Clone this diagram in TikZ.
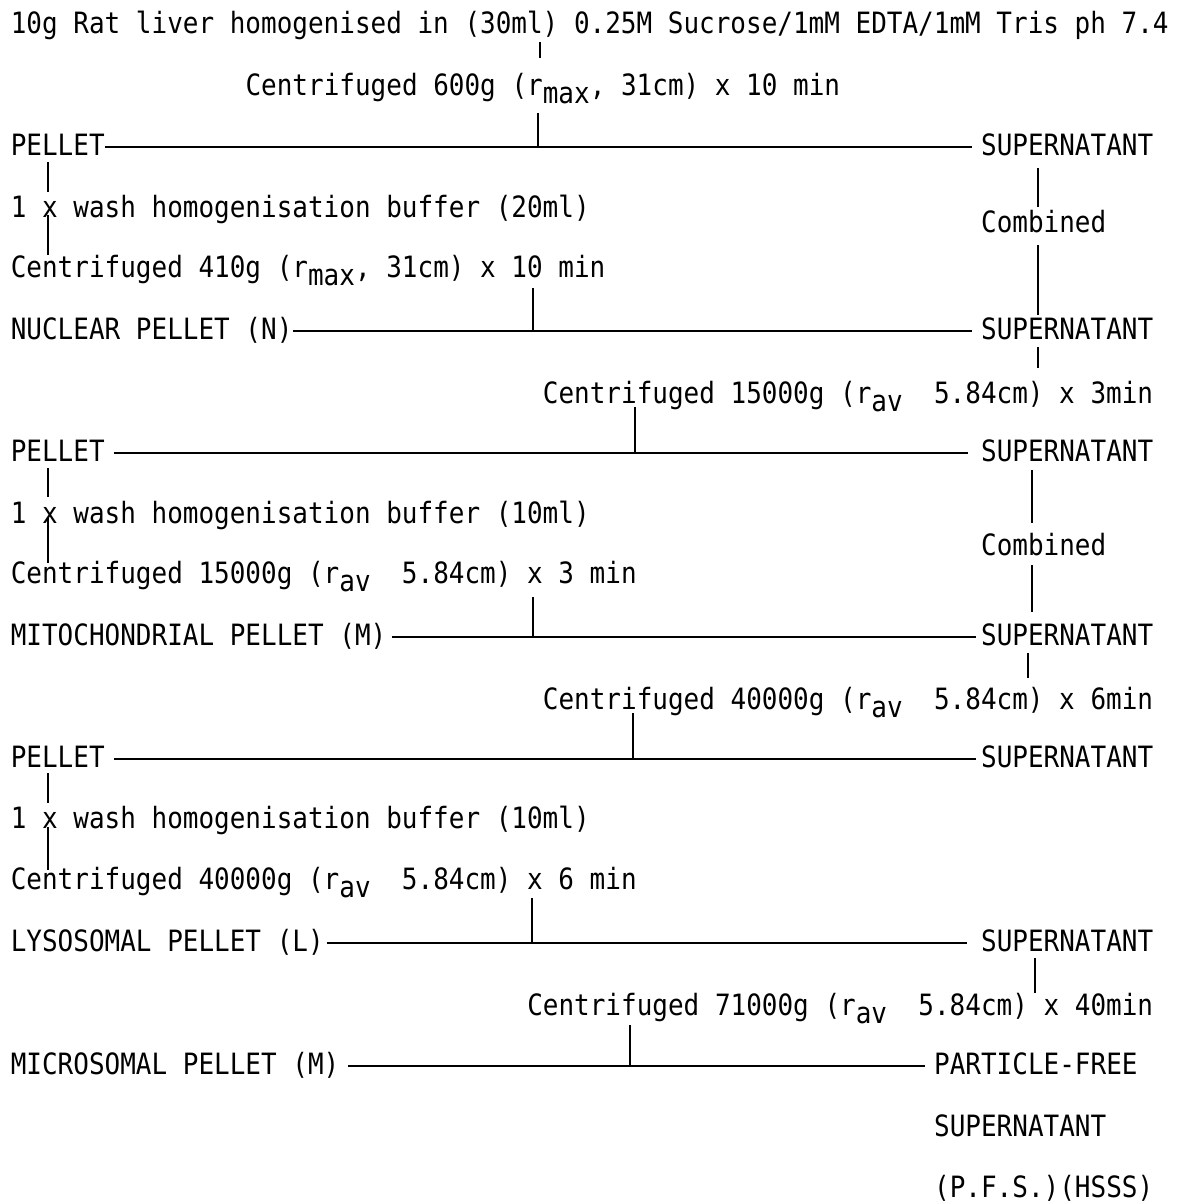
\documentclass[tikz,border=0pt]{standalone}
\usepackage{fontspec}
\usepackage{tikz}
\usetikzlibrary{calc}
\newfontfamily\typer{DejaVu Sans Mono}[FakeStretch=0.886]
\newcommand{\typesize}{\fontsize{22pt}{26pt}\selectfont}
\newcommand{\lowtxt}[1]{\raisebox{-6.5pt}{#1}}
\tikzset{
	txt/.style={anchor=base west, inner sep=0pt, font=\typer\typesize},
	split/.style={shorten >=6pt}
}

\begin{document}
\typer\typesize
\begin{tikzpicture}[x=0.75pt, y=-0.75pt, line width=1.2pt]
	\useasboundingbox (0, 0) rectangle (1185, 1204);
	\coordinate (lc) at (48, 0);
	\coordinate (rc1) at (1038, 0);
	\coordinate (rc2) at (1032, 0);
	\coordinate (rc3) at (1028, 0);
	\coordinate (rc4) at (1035, 0);
	\coordinate (k0) at (540, 0);
	\coordinate (k1) at (538, 0);
	\coordinate (k2) at (533, 0);
	\coordinate (k3) at (635, 0);
	\coordinate (k4) at (533, 0);
	\coordinate (k5) at (633, 0);
	\coordinate (k6) at (532, 0);
	\coordinate (k7) at (630, 0);
	\node[txt] (hom) at (10, 33) {10g Rat liver homogenised in (30ml) 0.25M Sucrose/1mM EDTA/1mM Tris ph 7.4};
	\node[txt] (cen1) at (244.75, 95) {Centrifuged 600g (r\lowtxt{max}, 31cm) x 10 min};
	\node[txt] (pel1) at (10, 155) {PELLET};
	\node[txt] (sup1) at (980.3, 155) {SUPERNATANT};
	\node[txt] (wash1) at (10, 217) {1 x wash homogenisation buffer (20ml)};
	\node[txt] (comb1) at (980.3, 232) {Combined};
	\node[txt] (cen2) at (10, 277) {Centrifuged 410g (r\lowtxt{max}, 31cm) x 10 min};
	\node[txt] (nuc) at (10, 339) {NUCLEAR PELLET (N)};
	\node[txt] (sup2) at (980.3, 339) {SUPERNATANT};
	\node[txt] (cen3) at (542.1, 403) {Centrifuged 15000g (r\lowtxt{av}\ \ 5.84cm) x 3min};
	\node[txt] (pel2) at (10, 461) {PELLET};
	\node[txt] (sup3) at (980.3, 461) {SUPERNATANT};
	\node[txt] (wash2) at (10, 523) {1 x wash homogenisation buffer (10ml)};
	\node[txt] (comb2) at (980.3, 555) {Combined};
	\node[txt] (cen4) at (10, 583) {Centrifuged 15000g (r\lowtxt{av}\ \ 5.84cm) x 3 min};
	\node[txt] (mito) at (10, 645) {MITOCHONDRIAL PELLET (M)};
	\node[txt] (sup4) at (980.3, 645) {SUPERNATANT};
	\node[txt] (cen5) at (542.1, 709) {Centrifuged 40000g (r\lowtxt{av}\ \ 5.84cm) x 6min};
	\node[txt] (pel3) at (10, 767) {PELLET};
	\node[txt] (sup5) at (980.3, 767) {SUPERNATANT};
	\node[txt] (wash3) at (10, 828) {1 x wash homogenisation buffer (10ml)};
	\node[txt] (cen6) at (10, 889) {Centrifuged 40000g (r\lowtxt{av}\ \ 5.84cm) x 6 min};
	\node[txt] (lyso) at (10, 951) {LYSOSOMAL PELLET (L)};
	\node[txt] (sup6) at (980.3, 951) {SUPERNATANT};
	\node[txt] (cen7) at (526.45, 1015) {Centrifuged 71000g (r\lowtxt{av}\ \ 5.84cm) x 40min};
	\node[txt] (micro) at (10, 1074) {MICROSOMAL PELLET (M)};
	\node[txt] (pfs1) at (933.35, 1074) {PARTICLE-FREE};
	\node[txt] (pfs2) at (933.35, 1136) {SUPERNATANT};
	\node[txt] (pfs3) at (933.35, 1197) {(P.F.S.)(HSSS)};
	\draw[split] (pel1.mid east) -- (sup1.mid west);
	\draw[split] (nuc.mid east) -- (sup2.mid west);
	\draw[split, shorten <=6.75pt, shorten >=9pt] (pel2.mid east) -- (sup3.mid west);
	\draw[split, shorten <=3.3pt, shorten >=3pt] (mito.mid east) -- (sup4.mid west);
	\draw[split, shorten <=6.75pt, shorten >=3pt] (pel3.mid east) -- (sup5.mid west);
	\draw[split, shorten <=1.5pt, shorten >=10pt] (lyso.mid east) -- (sup6.mid west);
	\draw[split, shorten <=6pt] (micro.mid east) -- (pfs1.mid west);
	\draw ($(hom.base -| k0)+(0, 9)$) -- ($(cen1.base -| k0)+(0, -37)$);
	\draw ($(cen1.base -| k1)+(0, 18)$) -- (k1 |- pel1.mid);
	\draw ($(cen2.base -| k2)+(0, 11)$) -- (k2 |- nuc.mid);
	\draw ($(cen3.base -| k3)+(0, 4)$) -- (k3 |- pel2.mid);
	\draw ($(cen4.base -| k4)+(0, 14)$) -- (k4 |- mito.mid);
	\draw ($(cen5.base -| k5)+(0, 4)$) -- (k5 |- pel3.mid);
	\draw ($(cen6.base -| k6)+(0, 9)$) -- (k6 |- lyso.mid);
	\draw ($(cen7.base -| k7)+(0, 10)$) -- (k7 |- micro.mid);
	\draw ($(pel1.base -| lc)+(0, 7)$) -- ($(wash1.base -| lc)+(0, -25)$);
	\draw ($(wash1.base -| lc)+(0, -2)$) -- ($(cen2.base -| lc)+(0, -22)$);
	\draw ($(pel2.base -| lc)+(0, 7)$) -- ($(wash2.base -| lc)+(0, -26)$);
	\draw ($(wash2.base -| lc)+(0, -5)$) -- ($(cen4.base -| lc)+(0, -20)$);
	\draw ($(pel3.base -| lc)+(0, 6)$) -- ($(wash3.base -| lc)+(0, -25)$);
	\draw ($(wash3.base -| lc)+(0, -1)$) -- ($(cen6.base -| lc)+(0, -19)$);
	\draw ($(sup1.base -| rc1)+(0, 13)$) -- ($(comb1.base -| rc1)+(0, -25)$);
	\draw ($(comb1.base -| rc1)+(0, 13)$) -- ($(sup2.base -| rc1)+(0, -24)$);
	\draw ($(sup2.base -| rc1)+(0, 8)$) -- ($(cen3.base -| rc1)+(0, -35)$);
	\draw ($(sup3.base -| rc2)+(0, 9)$) -- ($(comb2.base -| rc2)+(0, -32)$);
	\draw ($(comb2.base -| rc2)+(0, 10)$) -- ($(sup4.base -| rc2)+(0, -33)$);
	\draw ($(sup4.base -| rc3)+(0, 8)$) -- ($(cen5.base -| rc3)+(0, -31)$);
	\draw ($(sup6.base -| rc4)+(0, 7)$) -- ($(cen7.base -| rc4)+(0, -22)$);
\end{tikzpicture}
\end{document}
